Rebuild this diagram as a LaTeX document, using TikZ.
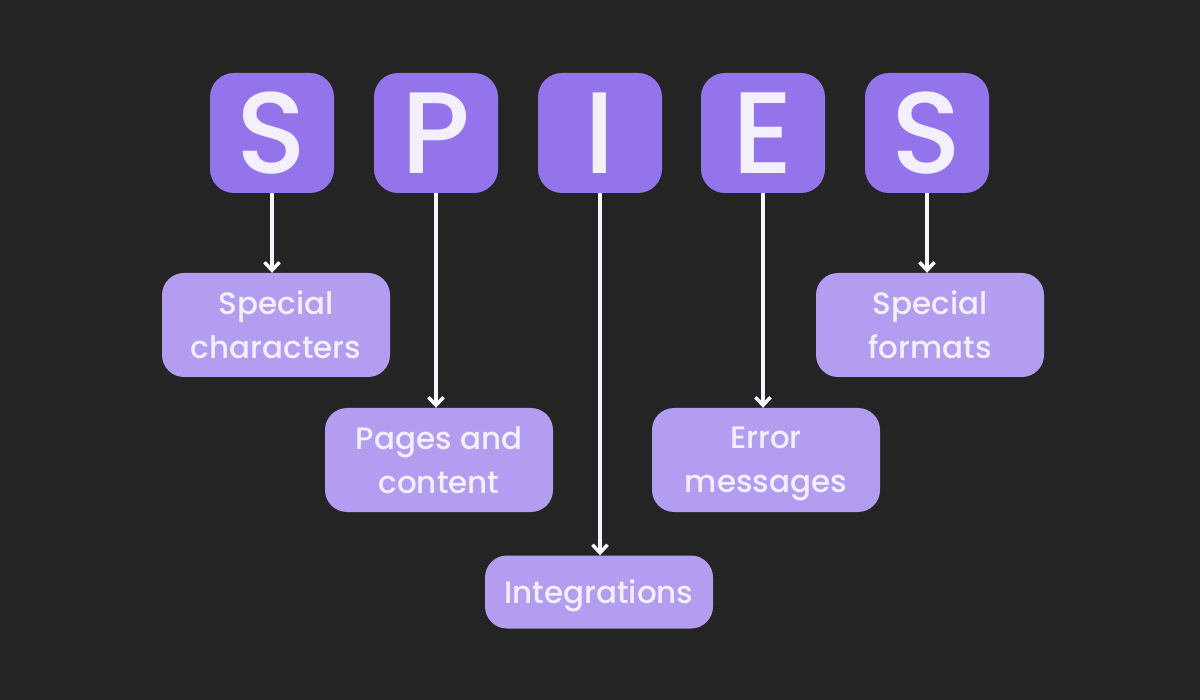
\documentclass[tikz,border=0pt]{standalone}
\usepackage{fontspec}
\setmainfont{Poppins}
\newfontfamily\medfont{Poppins Medium}
\usetikzlibrary{arrows.meta, positioning}
\definecolor{bgdark}{HTML}{242424}
\definecolor{letterfill}{HTML}{9374EA}
\definecolor{termfill}{HTML}{B39DF0}
\definecolor{paletext}{HTML}{F3EFFC}

\begin{document}
\begin{tikzpicture}[
    x=1pt, y=-1pt,
    letter/.style={fill=letterfill, rounded corners=24pt, minimum width=124pt, minimum height=120pt, inner sep=0pt, text=paletext, font=\medfont\fontsize{116}{116}\selectfont},
    term/.style={fill=termfill, rounded corners=22pt, minimum width=228pt, minimum height=104pt, inner sep=2pt, text depth=0pt, text=paletext, align=center, font=\medfont\fontsize{31}{44}\selectfont},
    arr/.style={-{Straight Barb[length=8pt, width=15pt, line width=3.5pt]}, line width=3.5pt, white!93!letterfill},
]

% background
\fill[bgdark] (0,0) rectangle (1200,700);

% TOP ROW: the acronym
\node[letter] (S1) at (272, 133) {S};
\node[letter] (P) at (436, 133) {P};
\node[letter] (I) at (600, 133) {I};
\node[letter] (E) at (763, 133) {E};
\node[letter] (S2) at (927, 133) {S};

% LOWER ROWS: what each letter stands for
\node[term] (Spc) at (276, 325) {Special\\characters};
\node[term] (Pag) at (439, 460) {Pages and\\content};
\node[term, minimum height=73pt] (Int) at (599, 592) {Integrations};
\node[term] (Err) at (766, 460) {Error\\messages};
\node[term] (Fmt) at (930, 325) {Special\\formats};

% Arrows
\draw[arr] (S1.south) -- (S1.south |- Spc.north);
\draw[arr] (P.south) -- (P.south |- Pag.north);
\draw[arr] (I.south) -- (I.south |- Int.north);
\draw[arr] (E.south) -- (E.south |- Err.north);
\draw[arr] (S2.south) -- (S2.south |- Fmt.north);

\end{tikzpicture}
\end{document}
